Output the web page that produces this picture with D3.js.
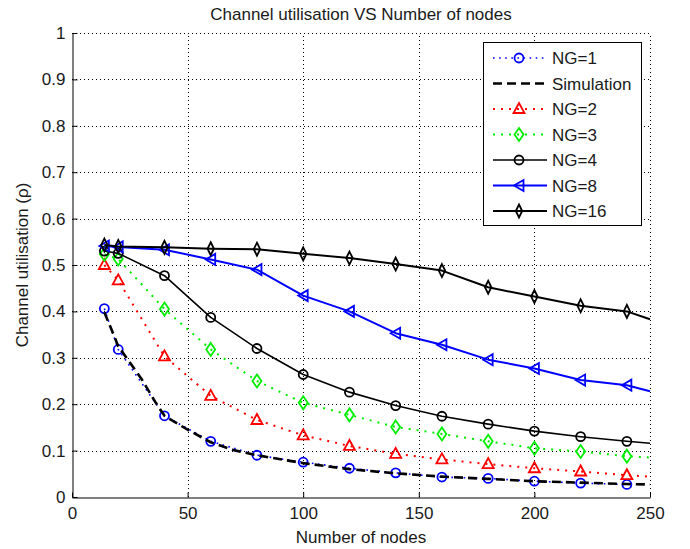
<!DOCTYPE html>
<html><head><meta charset="utf-8">
<script src="https://cdn.jsdelivr.net/npm/d3@7"></script>
<style>
html,body{margin:0;padding:0;background:#fff;}
svg{display:block;}
text{font-family:"Liberation Sans",Arial,sans-serif;fill:#1a1a1a;}
</style></head>
<body>
<svg id="chart" width="690" height="549"></svg>
<script>
// ---- data ----
const title = "Channel utilisation VS Number of nodes";
const xLabel = "Number of nodes";
const yLabel = "Channel utilisation (\u03c1)";
const xTicks = [0, 50, 100, 150, 200, 250];
const yTicks = [0, 0.1, 0.2, 0.3, 0.4, 0.5, 0.6, 0.7, 0.8, 0.9, 1];

// marker positions (number of nodes)
const markerX = [14, 20, 40, 60, 80, 100, 120, 140, 160, 180, 200, 220, 240];
// line end point (curves continue to 250 without marker)
const endX = 250;

const ng1  = [0.406, 0.318, 0.175, 0.120, 0.090, 0.075, 0.062, 0.052, 0.043, 0.040, 0.034, 0.030, 0.027];
const ng2  = [0.500, 0.467, 0.303, 0.218, 0.166, 0.133, 0.110, 0.093, 0.081, 0.071, 0.062, 0.055, 0.047];
const ng3  = [0.523, 0.513, 0.405, 0.318, 0.250, 0.203, 0.177, 0.151, 0.136, 0.120, 0.105, 0.098, 0.088];
const ng4  = [0.530, 0.525, 0.477, 0.387, 0.320, 0.264, 0.226, 0.197, 0.174, 0.157, 0.142, 0.130, 0.120];
const ng8  = [0.541, 0.539, 0.533, 0.512, 0.490, 0.434, 0.400, 0.353, 0.328, 0.296, 0.277, 0.252, 0.241];
const ng16 = [0.543, 0.540, 0.538, 0.535, 0.534, 0.524, 0.515, 0.502, 0.488, 0.452, 0.432, 0.412, 0.400];
const ng2End = 0.044, ng3End = 0.085, ng4End = 0.116, ng8End = 0.228, ng16End = 0.383;

const simX = [14, 17, 20, 25, 30, 36, 40, 50, 60, 70, 80, 100, 120, 140, 160, 180, 200, 220, 240, 250];
const simY = [0.398, 0.362, 0.325, 0.290, 0.255, 0.205, 0.175, 0.145, 0.118, 0.101, 0.090, 0.073, 0.060, 0.051, 0.044, 0.039, 0.034, 0.031, 0.028, 0.027];

const seriesNames = ["NG=1", "Simulation", "NG=2", "NG=3", "NG=4", "NG=8", "NG=16"];

// ---- layout ----
const svg = d3.select("#chart");
const L = 72, R = 650, T = 33, B = 497;
const x = d3.scaleLinear().domain([0, 250]).range([L, R]);
const y = d3.scaleLinear().domain([0, 1]).range([B, T]);

// grid
const grid = svg.append("g").attr("stroke", "#000").attr("stroke-width", 1).attr("stroke-dasharray", "1,3");
grid.selectAll(".gx").data(xTicks.filter(d => d > 0)).join("line")
  .attr("x1", d => Math.round(x(d)) + 0.5).attr("x2", d => Math.round(x(d)) + 0.5)
  .attr("y1", B).attr("y2", T);
grid.selectAll(".gy").data(yTicks.filter(d => d > 0)).join("line")
  .attr("y1", d => Math.round(y(d)) + 0.5).attr("y2", d => Math.round(y(d)) + 0.5)
  .attr("x1", L).attr("x2", R);

// axes
const xAxis = d3.axisBottom(x).tickValues(xTicks).tickSizeInner(-5).tickSizeOuter(0).tickPadding(6).tickFormat(d3.format("d"));
const yAxis = d3.axisLeft(y).tickValues(yTicks).tickSizeInner(-5).tickSizeOuter(0).tickPadding(10).tickFormat(d => d === 0 ? "0" : d === 1 ? "1" : d3.format(".1f")(d));
const gx = svg.append("g").attr("transform", `translate(0,${B + 0.5})`).call(xAxis);
const gy = svg.append("g").attr("transform", `translate(${L + 0.5},0)`).call(yAxis);
[gx, gy].forEach(g => {
  g.select(".domain").attr("stroke", "#000").attr("stroke-width", 1);
  g.selectAll(".tick line").attr("stroke", "#000");
  g.selectAll(".tick text").style("font-family", "Liberation Sans, Arial, sans-serif").style("font-size", "17px").attr("fill", "#1a1a1a");
});
gx.selectAll(".tick text").attr("dy", "0.9em");
gy.selectAll(".tick text").attr("dx", "3");

// ---- series ----
const line = d3.line().x(d => x(d[0])).y(d => y(d[1]));
const zipM = vals => markerX.map((xv, i) => [xv, vals[i]]);

const defs = [
  {name: "NG=1", pts: zipM(ng1), marks: zipM(ng1), color: "#0000ff", width: 1.6, dash: "1.6,4.5", marker: "circle"},
  {name: "Simulation", pts: simX.map((xv, i) => [xv, simY[i]]), marks: [], color: "#000", width: 2.6, dash: "9,5", marker: null},
  {name: "NG=2", pts: zipM(ng2).concat([[endX, ng2End]]), marks: zipM(ng2), color: "#ff0000", width: 2, dash: "2,6", marker: "triangleUp"},
  {name: "NG=3", pts: zipM(ng3).concat([[endX, ng3End]]), marks: zipM(ng3), color: "#00ee00", width: 2, dash: "2,6", marker: "diamond"},
  {name: "NG=4", pts: zipM(ng4).concat([[endX, ng4End]]), marks: zipM(ng4), color: "#000", width: 1.6, dash: null, marker: "circle"},
  {name: "NG=8", pts: zipM(ng8).concat([[endX, ng8End]]), marks: zipM(ng8), color: "#0000ff", width: 2, dash: null, marker: "triangleLeft"},
  {name: "NG=16", pts: zipM(ng16).concat([[endX, ng16End]]), marks: zipM(ng16), color: "#000", width: 2, dash: null, marker: "thinDiamond"}
];

function markerPath(type) {
  switch (type) {
    case "circle": { const p = d3.path(); p.arc(0, 0, 4.5, 0, 2 * Math.PI); return p.toString(); }
    case "triangleUp": return "M0,-6L5.5,4L-5.5,4Z";
    case "triangleLeft": return "M-5,0L4.5,-5.5L4.5,5.5Z";
    case "diamond": return "M0,-6.5L4.5,0L0,6.5L-4.5,0Z";
    case "thinDiamond": return "M0,-6.5L3.2,0L0,6.5L-3.2,0Z";
  }
  return "";
}

const plot = svg.append("g");
defs.forEach(s => {
  plot.append("path").datum(s.pts).attr("d", line)
    .attr("fill", "none").attr("stroke", s.color).attr("stroke-width", s.width)
    .attr("stroke-dasharray", s.dash).attr("stroke-linejoin", "round");
  if (s.marker) {
    plot.selectAll(null).data(s.marks).join("path")
      .attr("transform", d => `translate(${x(d[0])},${y(d[1])})`)
      .attr("d", markerPath(s.marker))
      .attr("fill", "none").attr("stroke", s.color).attr("stroke-width", 1.8);
  }
});

// ---- legend ----
const lg = svg.append("g");
lg.append("rect").attr("x", 483.5).attr("y", 42.5).attr("width", 158).attr("height", 183)
  .attr("fill", "#fff").attr("stroke", "#000").attr("stroke-width", 1);
defs.forEach((s, i) => {
  const cy = 58 + i * 25.5;
  lg.append("line").attr("x1", 493).attr("x2", 547).attr("y1", cy).attr("y2", cy)
    .attr("stroke", s.color).attr("stroke-width", s.width).attr("stroke-dasharray", s.dash);
  if (s.marker) {
    lg.append("path").attr("transform", `translate(519,${cy})`).attr("d", markerPath(s.marker))
      .attr("fill", "none").attr("stroke", s.color).attr("stroke-width", 1.8);
  }
  lg.append("text").attr("x", 552).attr("y", cy + 6).style("font-size", "17px").text(seriesNames[i]);
});

// ---- labels ----
svg.append("text").attr("x", (L + R) / 2).attr("y", 20).attr("text-anchor", "middle").style("font-size", "17px").text(title);
svg.append("text").attr("x", (L + R) / 2).attr("y", 543).attr("text-anchor", "middle").style("font-size", "17px").text(xLabel);
svg.append("text").attr("transform", `translate(28,${(T + B) / 2}) rotate(-90)`).attr("text-anchor", "middle").style("font-size", "17px").text(yLabel);
</script>
</body></html>
